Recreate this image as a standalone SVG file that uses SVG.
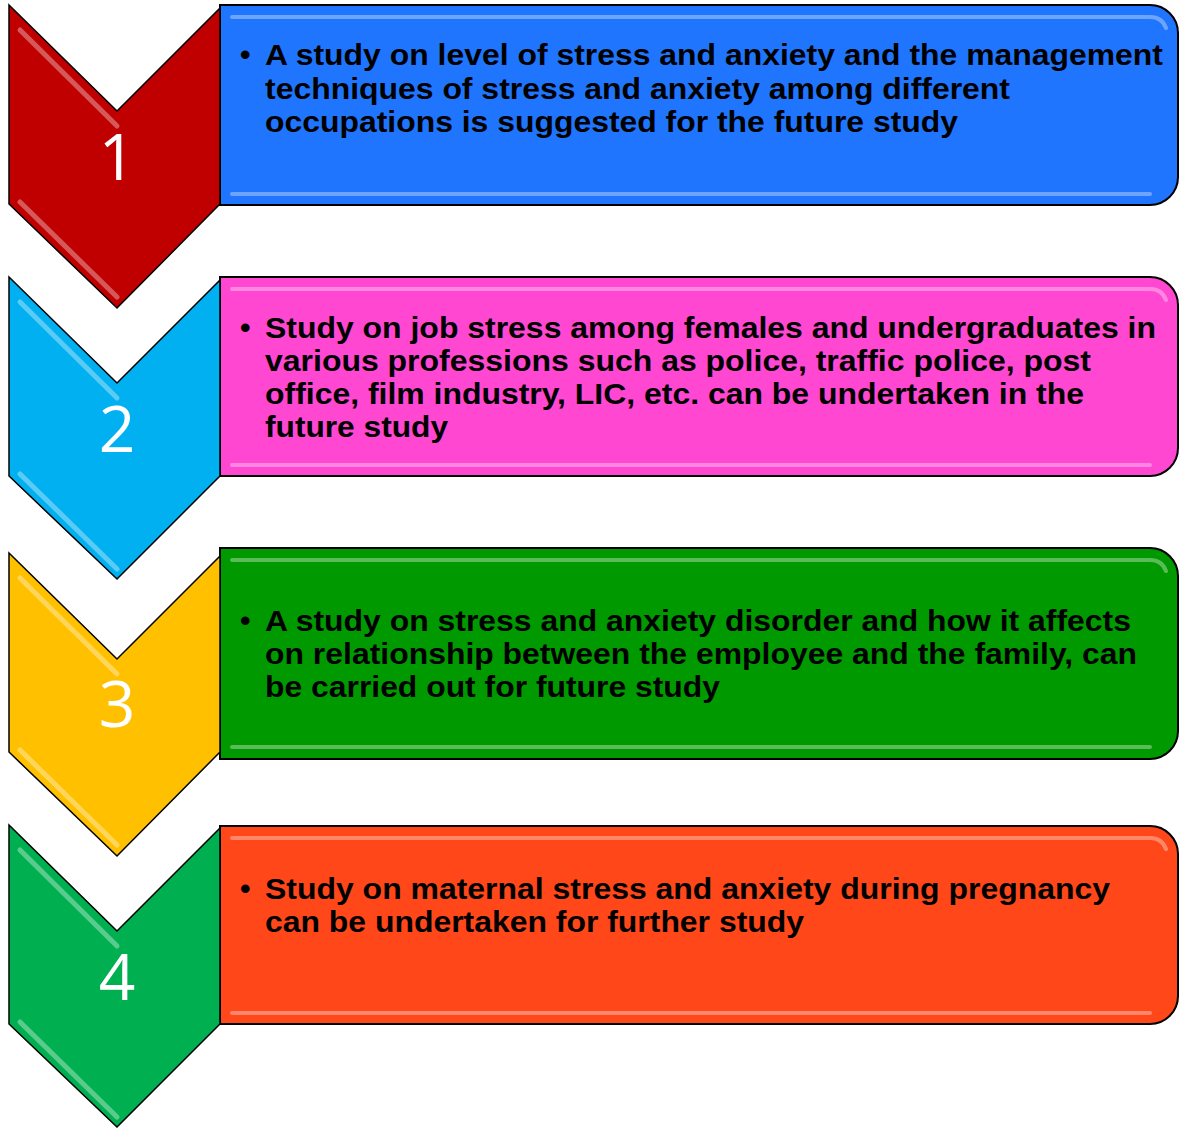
<svg xmlns="http://www.w3.org/2000/svg" width="1179" height="1128" viewBox="0 0 1179 1128">
<style>
.box{stroke:#000;stroke-width:2;}
.chev{stroke:#000;stroke-width:1.5;stroke-linejoin:miter;}
.hl{fill:none;stroke:#fff;stroke-opacity:0.35;stroke-width:4;stroke-linecap:round;}
.chl{fill:none;stroke:#fff;stroke-opacity:0.35;stroke-width:5;stroke-linecap:round;}
.txt{font-family:Arial,"Liberation Sans",sans-serif;font-weight:bold;font-size:30px;fill:#000;}
.num{font-family:"Open Sans","Liberation Sans",sans-serif;font-size:64px;fill:#fff;text-anchor:middle;}
</style>
<rect width="1179" height="1128" fill="#fff"/>

<g id="step1">
<path class="box" fill="#1F75FE" d="M220,5 H1150 A28,28 0 0 1 1178,33 V177 A28,28 0 0 1 1150,205 H220 Z"/>
<path class="hl" d="M232,17 H1150 Q1162,17 1166,28"/>
<path class="hl" d="M232,194 H1150"/>
<path class="chev" fill="#C00000" d="M9,5 L117,111 L220,8 L220,204 L117,308 L9,204 Z"/>
<path class="chl" d="M20,30 L117,126"/>
<path class="chl" d="M20,202 L117,297"/>
<text class="num" x="117" y="180">1</text>
<text class="txt" x="240" y="65">•</text>
<text class="txt" x="265" y="65" textLength="898" lengthAdjust="spacingAndGlyphs">A study on level of stress and anxiety and the management</text>
<text class="txt" x="265" y="99" textLength="745" lengthAdjust="spacingAndGlyphs">techniques of stress and anxiety among different</text>
<text class="txt" x="265" y="132" textLength="693" lengthAdjust="spacingAndGlyphs">occupations is suggested for the future study</text>
</g>

<g id="step2">
<path class="box" fill="#FF47D1" d="M220,277 H1150 A28,28 0 0 1 1178,305 V448 A28,28 0 0 1 1150,476 H220 Z"/>
<path class="hl" d="M232,289 H1150 Q1162,289 1166,300"/>
<path class="hl" d="M232,465 H1150"/>
<path class="chev" fill="#00B0F0" d="M9,277 L117,383 L220,280 L220,476 L117,579 L9,476 Z"/>
<path class="chl" d="M20,302 L117,398"/>
<path class="chl" d="M20,474 L117,569"/>
<text class="num" x="117" y="452">2</text>
<text class="txt" x="240" y="338">•</text>
<text class="txt" x="265" y="338" textLength="891" lengthAdjust="spacingAndGlyphs">Study on job stress among females and undergraduates in</text>
<text class="txt" x="265" y="371" textLength="826" lengthAdjust="spacingAndGlyphs">various professions such as police, traffic police, post</text>
<text class="txt" x="265" y="404" textLength="819" lengthAdjust="spacingAndGlyphs">office, film industry, LIC, etc. can be undertaken in the</text>
<text class="txt" x="265" y="437" textLength="183" lengthAdjust="spacingAndGlyphs">future study</text>
</g>

<g id="step3">
<path class="box" fill="#009900" d="M220,548 H1150 A28,28 0 0 1 1178,576 V731 A28,28 0 0 1 1150,759 H220 Z"/>
<path class="hl" d="M232,560 H1150 Q1162,560 1166,571"/>
<path class="hl" d="M232,747 H1150"/>
<path class="chev" fill="#FFC000" d="M9,553 L117,659 L220,556 L220,752 L117,856 L9,752 Z"/>
<path class="chl" d="M20,578 L117,674"/>
<path class="chl" d="M20,750 L117,845"/>
<text class="num" x="117" y="727">3</text>
<text class="txt" x="240" y="631">•</text>
<text class="txt" x="265" y="631" textLength="866" lengthAdjust="spacingAndGlyphs">A study on stress and anxiety disorder and how it affects</text>
<text class="txt" x="265" y="664" textLength="872" lengthAdjust="spacingAndGlyphs">on relationship between the employee and the family, can</text>
<text class="txt" x="265" y="697" textLength="455" lengthAdjust="spacingAndGlyphs">be carried out for future study</text>
</g>

<g id="step4">
<path class="box" fill="#FF4719" d="M220,826 H1150 A28,28 0 0 1 1178,854 V996 A28,28 0 0 1 1150,1024 H220 Z"/>
<path class="hl" d="M232,838 H1150 Q1162,838 1166,849"/>
<path class="hl" d="M232,1013 H1150"/>
<path class="chev" fill="#00B050" d="M9,825 L117,931 L220,828 L220,1024 L117,1127 L9,1024 Z"/>
<path class="chl" d="M20,850 L117,946"/>
<path class="chl" d="M20,1022 L117,1117"/>
<text class="num" x="117" y="1000">4</text>
<text class="txt" x="240" y="899">•</text>
<text class="txt" x="265" y="899" textLength="845" lengthAdjust="spacingAndGlyphs">Study on maternal stress and anxiety during pregnancy</text>
<text class="txt" x="265" y="932" textLength="539" lengthAdjust="spacingAndGlyphs">can be undertaken for further study</text>
</g>

<g id="connectors"></g>
</svg>
